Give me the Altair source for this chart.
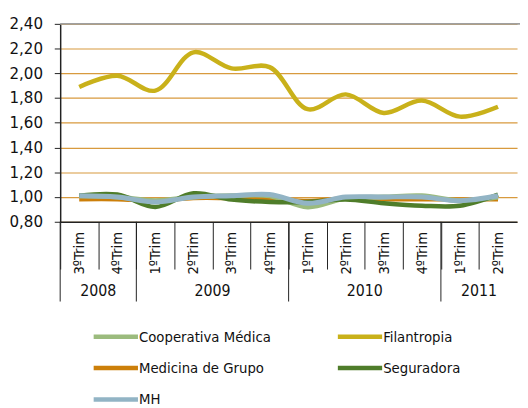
import altair as alt
import pandas as pd

# ---- data ----
quarters = ["3ºTrim", "4ºTrim", "1ºTrim", "2ºTrim", "3ºTrim", "4ºTrim",
            "1ºTrim", "2ºTrim", "3ºTrim", "4ºTrim", "1ºTrim", "2ºTrim"]
years = ["2008", "2009", "2010", "2011"]
year_start = [0, 2, 6, 10]
year_end = [2, 6, 10, 12]

# legend order (column-major: col 1 then col 2)
series_names = ["Cooperativa Médica", "Medicina de Grupo", "MH", "Filantropia", "Seguradora"]
colors = ["#9bbb7d", "#cc7f0a", "#92b4c5", "#c9b11a", "#4f7d2a"]

cooperativa = [1.01, 1.00, 0.97, 1.00, 1.01, 1.01, 0.92, 0.99, 1.00, 1.01, 0.97, 1.00]
filantropia = [1.89, 1.98, 1.86, 2.17, 2.04, 2.05, 1.71, 1.83, 1.68, 1.78, 1.65, 1.73]
medicina = [0.98, 0.98, 0.97, 0.99, 0.99, 0.99, 0.97, 0.99, 0.98, 0.98, 0.98, 0.98]
seguradora = [1.01, 1.02, 0.92, 1.03, 0.98, 0.96, 0.96, 0.98, 0.95, 0.93, 0.93, 1.02]
mh = [1.01, 1.00, 0.96, 1.00, 1.01, 1.02, 0.95, 1.00, 1.00, 1.00, 0.97, 1.01]

y_ticks = [0.8, 1.0, 1.2, 1.4, 1.6, 1.8, 2.0, 2.2, 2.4]

values_by_series = {
    "Cooperativa Médica": cooperativa,
    "Filantropia": filantropia,
    "Medicina de Grupo": medicina,
    "Seguradora": seguradora,
    "MH": mh,
}

rows = []
for name, vals in values_by_series.items():
    for i, v in enumerate(vals):
        rows.append({"serie": name, "pos": i + 0.5, "valor": v})
df = pd.DataFrame(rows)

qdf = pd.DataFrame({"pos": [i + 0.5 for i in range(len(quarters))], "label": quarters})
ydf = pd.DataFrame({"year": years, "start": year_start, "end": year_end})
ydf["mid"] = (ydf["start"] + ydf["end"]) / 2

W, H = 464, 201
FONT = "'DejaVu Sans Condensed', 'Liberation Sans', sans-serif"

xscale = alt.Scale(domain=[0, 12], nice=False, zero=False)
yscale = alt.Scale(domain=[0.8, 2.4], nice=False, zero=False)
color_scale = alt.Scale(domain=series_names, range=colors)

y_axis = alt.Axis(values=y_ticks, title=None, labelOverlap=False, tickCount=9,
                  labelExpr="replace(format(datum.value, '.2f'), '.', ',')",
                  labelFontSize=17, labelPadding=12, labelColor="#111",
                  labelFont=FONT,
                  tickSize=6, tickColor="#222", domainColor="#222",
                  domainWidth=1.5, gridColor="#d89a3e", gridWidth=1.2)
x_axis = alt.Axis(values=list(range(12)), labels=False, title=None,
                  tickSize=48, tickColor="#222", domainColor="#222",
                  domainWidth=1.5, tickWidth=1, grid=False)

legend = alt.Legend(title=None, orient="none", legendX=31, legendY=310,
                    columns=2, columnPadding=58, rowPadding=13,
                    symbolType="M-1,0H9", symbolSize=81,
                    symbolStrokeWidth=4.5, labelFontSize=15,
                    labelFont=FONT, labelOffset=34, labelColor="#111",
                    labelLimit=300)

base = alt.Chart(df)

draw_order = ["Medicina de Grupo", "Cooperativa Médica", "Seguradora", "MH", "Filantropia"]
widths = {"Medicina de Grupo": 4, "Cooperativa Médica": 5, "Seguradora": 4.5, "MH": 5, "Filantropia": 4.5}

layers = []
for k, name in enumerate(draw_order):
    layers.append(
        base.transform_filter(alt.datum.serie == name)
        .mark_line(interpolate="catmull-rom", strokeWidth=widths[name], strokeCap="butt")
        .encode(
            x=alt.X("pos:Q", scale=xscale, axis=x_axis),
            y=alt.Y("valor:Q", scale=yscale, axis=y_axis),
            color=alt.Color("serie:N", scale=color_scale, legend=legend),
        )
    )

top_line = alt.Chart(pd.DataFrame({"v": [2.4]})).mark_rule(color="#a0a0a0", strokeWidth=2).encode(
    y=alt.Y("v:Q", scale=yscale, axis=y_axis), x=alt.value(0), x2=alt.value(W + 3)
)

qlabels = alt.Chart(qdf).mark_text(angle=270, fontSize=15, font=FONT, color="#111",
                                   align="center", baseline="middle").encode(
    x=alt.X("pos:Q", scale=xscale, axis=x_axis), y=alt.value(H + 32), text="label:N"
)

year_rules = alt.Chart(ydf).mark_rule(color="#222", strokeWidth=1).encode(
    x=alt.X("start:Q", scale=xscale, axis=x_axis), y=alt.value(H), y2=alt.value(H + 81)
)

year_labels = alt.Chart(ydf).mark_text(fontSize=16, font=FONT, color="#111",
                                       align="center", baseline="middle").encode(
    x=alt.X("mid:Q", scale=xscale, axis=x_axis), y=alt.value(H + 70), text="year:N"
)

chart = alt.layer(top_line, *layers, qlabels, year_rules, year_labels).properties(
    width=W, height=H,
    autosize=alt.AutoSizeParams(type="none"),
    padding={"left": 53, "top": 13, "right": 3, "bottom": 184},
).configure(font=FONT).configure_view(stroke=None)

chart.save("out.html", embed_options={"renderer": "svg", "actions": False})
